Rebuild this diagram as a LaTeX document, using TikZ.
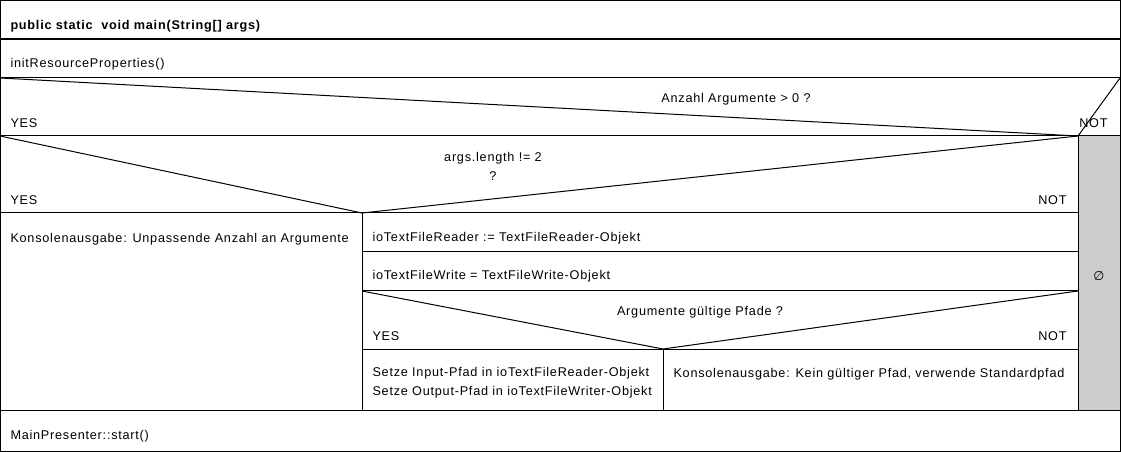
\documentclass[tikz,border=0pt]{standalone}
\usepackage{fontspec}
\setmainfont[LetterSpace=6]{Liberation Sans}
\newfontfamily\symfont{DejaVu Sans}
\usetikzlibrary{positioning}

\begin{document}
\begin{tikzpicture}[x=0.75pt, y=-0.75pt, line width=0.75pt,
    txt/.style={anchor=west, inner sep=0pt, yshift=-1pt, font=\fontsize{9.5}{11}\selectfont},
    txtr/.style={anchor=east, inner sep=0pt, yshift=-1pt, font=\fontsize{9.5}{11}\selectfont},
    txtc/.style={anchor=center, inner sep=0pt, yshift=-1pt, font=\fontsize{9.5}{11}\selectfont}]
    \useasboundingbox (0,0) rectangle (1121,452);

    % empty branch (grey)
    \fill [gray!40] (1078,136) rectangle (1120,410);

    % outer frame and header
    \draw (0.5,0.5) rectangle (1120,451);
    \draw [line width=1.5pt] (0,39) -- (1120,39);
    \node [txt, font=\fontsize{9.5}{11}\selectfont\bfseries] (head) at (10,25) {public static\ \ void main(String[] args)};

    % initResourceProperties
    \draw (0,78) -- (1120,78);
    \node [txt] (init) at (10,63) {initResourceProperties()};

    % decision 1: Anzahl Argumente > 0
    \coordinate (d1tip) at (1078,136);
    \draw (0,78) -- (d1tip) -- (1120,78);
    \draw (0,136) -- (1120,136);
    \node [txtc] (cond1) at (736,98) {Anzahl Argumente > 0 ?};
    \node [txt] (yes1) at (10,122) {YES};
    \node [txtr] (not1) at (1108,122) {NOT};
    \draw (d1tip) -- (1078,410);
    \node [txtc] (empty) at (1099,275) {\symfont\fontsize{9.5}{11}\selectfont ∅};

    % decision 2: args.length != 2
    \coordinate (d2tip) at (362,213);
    \draw (0,136) -- (d2tip) -- (d1tip);
    \draw (0,213) -- (1078,213);
    \node [txtc] (cond2) at (493,157) {args.length != 2};
    \node [txtc] (cond2q) at (493,175) {?};
    \node [txt] (yes2) at (10,199) {YES};
    \node [txtr] (not2) at (1067,199) {NOT};
    \draw (d2tip) -- (362,410);
    \node [txt] (errargs) at (10,238) {Konsolenausgabe: Unpassende Anzahl an Argumente};

    % reader / writer
    \node [txt] (reader) at (372,237) {ioTextFileReader := TextFileReader-Objekt};
    \draw (362,252) -- (1078,252);
    \node [txt] (writer) at (372,275) {ioTextFileWrite = TextFileWrite-Objekt};
    \draw (362,291) -- (1078,291);

    % decision 3: Argumente gueltige Pfade
    \coordinate (d3tip) at (663,349);
    \draw (362,291) -- (d3tip) -- (1078,291);
    \draw (362,349) -- (1078,349);
    \node [txtc] (cond3) at (700,311) {Argumente gültige Pfade ?};
    \node [txt] (yes3) at (372,335) {YES};
    \node [txtr] (not3) at (1067,335) {NOT};
    \draw (d3tip) -- (663,410);
    \node [txt] (setin) at (372,372) {Setze Input-Pfad in ioTextFileReader-Objekt};
    \node [txt] (setout) at (372,391) {Setze Output-Pfad in ioTextFileWriter-Objekt};
    \node [txt] (errpath) at (673,373) {Konsolenausgabe: Kein gültiger Pfad, verwende Standardpfad};

    % start
    \draw (0,410) -- (1120,410);
    \node [txt] (start) at (10,435) {MainPresenter::start()};
\end{tikzpicture}
\end{document}
